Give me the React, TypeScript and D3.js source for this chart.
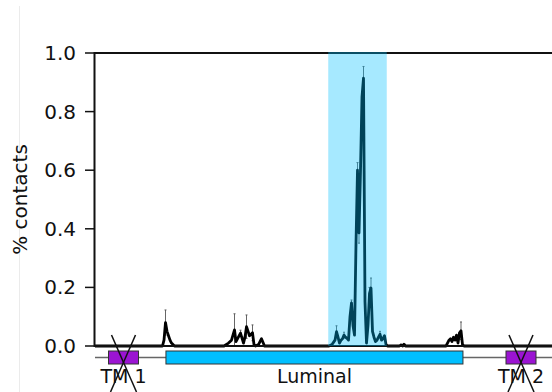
import React from "react";
import * as d3 from "d3";

// residue index -> % contacts (sparse; line returns to 0 between listed points)
const contactResidues = [0, 45, 46, 47, 48, 49, 50, 51, 53,
  86, 89, 91, 93, 94, 97, 99, 100, 101, 103, 105, 106, 107, 109, 111, 113,
  156, 158, 160, 161, 162, 163, 164, 165, 166, 167, 168, 169, 170, 171, 172, 173, 174, 175, 176, 177, 178, 179, 180, 181, 182, 183, 184, 185, 186, 187, 188, 189, 190, 191, 192, 193, 194, 195,
  203, 204, 205, 206, 207,
  234, 235, 236, 237, 238, 239, 240, 241, 242, 243, 244, 245, 246, 320];
const contactValues = [0, 0, 0.02, 0.08, 0.05, 0.035, 0.02, 0.01, 0,
  0, 0.01, 0.02, 0.055, 0.015, 0.044, 0.01, 0.03, 0.066, 0.035, 0.045, 0.005, 0, 0.005, 0.025, 0,
  0, 0.005, 0.02, 0.049, 0.03, 0.01, 0.02, 0.025, 0.037, 0.03, 0.026, 0.02, 0.1, 0.147, 0.07, 0.037, 0.35, 0.6, 0.386, 0.6, 0.85, 0.914, 0.15, 0.01, 0.07, 0.18, 0.198, 0.05, 0.03, 0.015, 0.02, 0.03, 0.04, 0.02, 0.025, 0.035, 0.005, 0,
  0, 0.004, 0, 0.006, 0,
  0, 0.01, 0.02, 0.025, 0.015, 0.03, 0.02, 0.037, 0.01, 0.045, 0.052, 0.005, 0, 0];
const contactErrors = [0, 0, 0, 0.043, 0, 0, 0, 0, 0,
  0, 0, 0, 0.055, 0, 0.01, 0, 0, 0.04, 0, 0.027, 0, 0, 0, 0, 0,
  0, 0, 0, 0.02, 0, 0, 0, 0, 0.01, 0, 0, 0, 0.01, 0.01, 0, 0, 0, 0.026, 0.035, 0, 0, 0.04, 0, 0, 0, 0.02, 0.034, 0, 0, 0, 0, 0, 0.01, 0, 0, 0, 0, 0,
  0, 0, 0, 0, 0,
  0, 0, 0, 0, 0, 0, 0, 0, 0, 0, 0.03, 0, 0, 0];

const yTicks = [0, 0.2, 0.4, 0.6, 0.8, 1.0];
const highlightRange = [155.5, 194.5];

const topoNames = ["TM 1", "Luminal", "TM 2"];
const topoStart = [9, 47.3, 274];
const topoEnd = [29, 245.3, 294];
const topoKind = ["tm", "loop", "tm"];

export default function App() {
  const W = 552, H = 392;
  const x = d3.scaleLinear().domain([0, 320]).range([95, 575]);
  const y = d3.scaleLinear().domain([0, 1]).range([346, 53]);
  const pts = contactResidues.map((r, i) => [r, contactValues[i], contactErrors[i]] as [number, number, number]);
  const line = d3.line<[number, number, number]>().x(d => x(d[0])).y(d => y(d[1]));
  const font = "DejaVu Sans, sans-serif";
  const boxTop = 351, boxBot = 364, backY = 357.5;
  const [x0, x1] = [x.range()[0] - 1, W];
  return (
    <svg width={W} height={H} style={{ position: "absolute", left: 0, top: 0, background: "#fff" }} fontFamily={font}>
      <defs>
        <clipPath id="plotclip">
          <rect x={x0} y={y(1) - 2} width={x1 - x0} height={y(0) - y(1) + 4} />
        </clipPath>
      </defs>
      <line x1={19.5} x2={19.5} y1={6} y2={H} stroke="#ebebeb" strokeWidth={1} />
      {/* y label */}
      <text transform={`translate(21,${(y(0) + y(1)) / 2}) rotate(-90)`} textAnchor="middle" dominantBaseline="middle" fontSize={20} fill="#111">% contacts</text>
      {/* ticks */}
      {yTicks.map(t => (
        <g key={t}>
          <line x1={85} x2={94} y1={y(t)} y2={y(t)} stroke="#111" strokeWidth={1.5} />
          <text x={76} y={y(t)} textAnchor="end" dominantBaseline="central" fontSize={20} fill="#111">{t.toFixed(1)}</text>
        </g>
      ))}
      {/* topology */}
      <line x1={x(0)} x2={W} y1={backY} y2={backY} stroke="#666" strokeWidth={1.5} />
      {topoNames.map((n, i) => (
        <g key={n}>
          <rect x={x(topoStart[i])} y={boxTop} width={x(topoEnd[i]) - x(topoStart[i])} height={boxBot - boxTop}
            fill={topoKind[i] === "tm" ? "#9b14d2" : "#00bfff"} stroke="#333" strokeWidth={1} />
          <text x={(x(topoStart[i]) + x(topoEnd[i])) / 2} y={383} textAnchor="middle" fontSize={19} fill="#111">{n}</text>
          {topoKind[i] === "tm" && (
            <g stroke="#111" strokeWidth={1.5}>
              <line x1={(x(topoStart[i]) + x(topoEnd[i])) / 2 - 12} y1={335} x2={(x(topoStart[i]) + x(topoEnd[i])) / 2 + 13} y2={392} />
              <line x1={(x(topoStart[i]) + x(topoEnd[i])) / 2 + 12} y1={335} x2={(x(topoStart[i]) + x(topoEnd[i])) / 2 - 13} y2={392} />
            </g>
          )}
        </g>
      ))}
      {/* data */}
      <g clipPath="url(#plotclip)">
        {pts.filter(p => p[2] > 0).map((p, i) => (
          <g key={i} stroke="#555" strokeWidth={0.9}>
            <line x1={x(p[0])} x2={x(p[0])} y1={y(p[1] + p[2])} y2={y(Math.max(0, p[1] - p[2]))} />
            <line x1={x(p[0]) - 1} x2={x(p[0]) + 1} y1={y(p[1] + p[2])} y2={y(p[1] + p[2])} />
            <line x1={x(p[0]) - 1} x2={x(p[0]) + 1} y1={y(Math.max(0, p[1] - p[2]))} y2={y(Math.max(0, p[1] - p[2]))} />
          </g>
        ))}
        <path d={line(pts) || ""} fill="none" stroke="#000" strokeWidth={2.8} strokeLinejoin="round" />
      </g>
      {/* spines */}
      <line x1={94.5} x2={94.5} y1={y(1) - 1} y2={y(0) + 1} stroke="#111" strokeWidth={2} />
      <line x1={94} x2={W} y1={y(1)} y2={y(1)} stroke="#111" strokeWidth={2} />
      <line x1={94} x2={W} y1={y(0)} y2={y(0)} stroke="#111" strokeWidth={2} />
      {/* highlight band */}
      <rect x={x(highlightRange[0])} y={y(1) - 1} width={x(highlightRange[1]) - x(highlightRange[0])} height={y(0) - y(1) + 1}
        fill="rgb(0,191,255)" fillOpacity={0.35} />
    </svg>
  );
}
